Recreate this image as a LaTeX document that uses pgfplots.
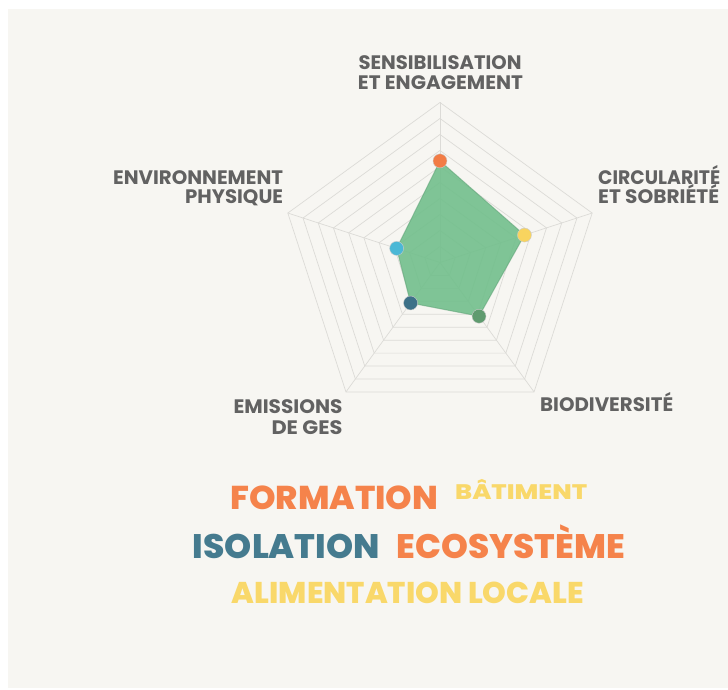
\documentclass[border=0pt]{standalone}
\usepackage{fontspec}
\setmainfont{Poppins}
\newfontfamily\heavy{Poppins}[UprightFont=* ExtraBold]
\usepackage{pgfplots}
\pgfplotsset{compat=1.18}
\usepgfplotslibrary{polar}

\definecolor{panel}{HTML}{F7F6F2}
\definecolor{gridcol}{HTML}{DCDBD7}
\definecolor{fillgreen}{HTML}{72BF8C}
\definecolor{edgegreen}{HTML}{5A9E72}
\definecolor{dotorange}{HTML}{F27C45}
\definecolor{dotyellow}{HTML}{F8D45F}
\definecolor{dotgreen}{HTML}{5F9B6F}
\definecolor{dotteal}{HTML}{3D7188}
\definecolor{dotcyan}{HTML}{4BB8D6}
\definecolor{wordorange}{HTML}{F5834B}
\definecolor{wordyellow}{HTML}{F9D86A}
\definecolor{wordteal}{HTML}{457B8F}
\definecolor{labelgray}{HTML}{626262}

% width, font size, text
\newcommand{\lab}[3]{\resizebox{#1}{\height}{\fontsize{#2}{#2}\selectfont\bfseries #3}}
\newcommand{\word}[3]{\resizebox{#1}{\height}{\fontsize{#2}{#2}\selectfont\heavy #3}}

\begin{document}
\begin{tikzpicture}[x=1pt,y=1pt]
\fill[white] (0,0) rectangle (728,690);
\fill[panel] (8,2) rectangle (728,681);

\begin{polaraxis}[
    at={(440pt,427.5pt)}, anchor=center,
    width=320pt, height=320pt, scale only axis,
    xmin=0, xmax=360, ymin=0, ymax=10,
    hide axis, clip=false,
  ]
  % pentagon rings and spokes
  \pgfplotsinvokeforeach{1,...,10}{
    \addplot[gridcol, line width=0.7pt] coordinates {(90,#1) (18,#1) (-54,#1) (234,#1) (162,#1) (90,#1)};
  }
  \pgfplotsinvokeforeach{90,18,-54,234,162}{
    \addplot[gridcol, line width=0.7pt] coordinates {(#1,0) (#1,10)};
  }

  % scores
  \addplot[fill=fillgreen, fill opacity=0.9, draw=edgegreen, draw opacity=0.5, line width=1pt]
    coordinates {(90,6.35) (18,5.55) (-54,4.15) (234,3.13) (162,2.85) (90,6.35)};

  \addplot[only marks, mark=*, mark size=7pt, mark options={fill=dotorange, draw=black!20, line width=0.4pt}] coordinates {(90,6.35)};
  \addplot[only marks, mark=*, mark size=7pt, mark options={fill=dotyellow, draw=black!20, line width=0.4pt}] coordinates {(18,5.55)};
  \addplot[only marks, mark=*, mark size=7pt, mark options={fill=dotgreen, draw=black!20, line width=0.4pt}] coordinates {(-54,4.15)};
  \addplot[only marks, mark=*, mark size=7pt, mark options={fill=dotteal, draw=black!20, line width=0.4pt}] coordinates {(234,3.13)};
  \addplot[only marks, mark=*, mark size=7pt, mark options={fill=dotcyan, draw=black!20, line width=0.4pt}] coordinates {(162,2.85)};
\end{polaraxis}

% axis labels
\begin{scope}[every node/.style={inner sep=0pt, text=labelgray}]
  \node[anchor=base] at (440,620.7) {\lab{163pt}{19.5}{SENSIBILISATION}};
  \node[anchor=base] at (440.5,600) {\lab{165pt}{19.5}{ET ENGAGEMENT}};
  \node[anchor=base east] at (283.3,505.7) {\lab{170pt}{19.5}{ENVIRONNEMENT}};
  \node[anchor=base east] at (283.3,486.7) {\lab{98pt}{19.5}{PHYSIQUE}};
  \node[anchor=base west] at (598,505.7) {\lab{122pt}{19.5}{CIRCULARITÉ}};
  \node[anchor=base west] at (598,486.7) {\lab{121pt}{19.5}{ET SOBRIÉTÉ}};
  \node[anchor=base east] at (342.7,276.7) {\lab{109pt}{19.5}{EMISSIONS}};
  \node[anchor=base east] at (342.7,255) {\lab{71pt}{19.5}{DE GES}};
  \node[anchor=base west] at (540,278.3) {\lab{133pt}{19.5}{BIODIVERSITÉ}};
\end{scope}

% word cloud
\begin{scope}[every node/.style={inner sep=0pt}]
  \node[anchor=base west, text=wordorange] at (230,180.7) {\word{208pt}{33}{FORMATION}};
  \node[anchor=base west, text=wordyellow] at (455,190) {\word{132pt}{21}{BÂTIMENT}};
  \node[anchor=base west, text=wordteal] at (192.7,131) {\word{187pt}{34}{ISOLATION}};
  \node[anchor=base west, text=wordorange] at (396.7,131) {\word{228pt}{34}{ECOSYSTÈME}};
  \node[anchor=base west, text=wordyellow] at (231.7,86) {\word{352pt}{30}{ALIMENTATION LOCALE}};
\end{scope}
\end{tikzpicture}
\end{document}
